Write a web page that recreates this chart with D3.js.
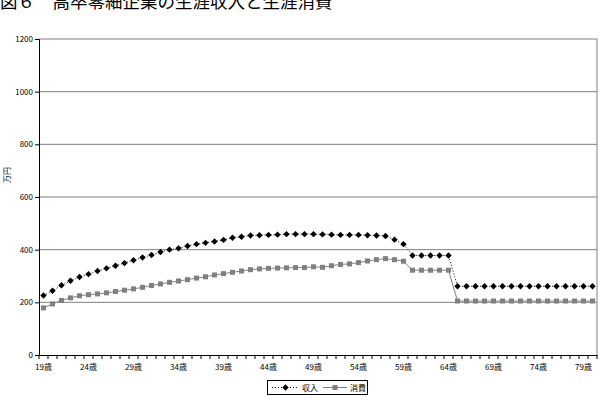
<!DOCTYPE html>
<html>
<head>
<meta charset="utf-8">
<script src="https://cdn.jsdelivr.net/npm/d3@7"></script>
<style>
  body { margin: 0; background: #fff; }
  text { font-family: "Noto Sans CJK JP", sans-serif; }
</style>
</head>
<body>
<svg id="chart" width="600" height="416"></svg>
<script>
// data (万円)
const ages = d3.range(19, 81);
const income = [226, 244, 265, 282, 296, 307, 319, 329, 339, 349,
                360, 370, 380, 391, 400, 405, 414, 421, 426, 431,
                437, 445, 449, 454, 455, 456, 457, 459, 459, 459,
                459, 458, 457, 456, 456, 456, 455, 454, 452, 438,
                421, 378, 378, 378, 378, 378, 261, 261, 261, 261,
                261, 261, 261, 261, 261, 261, 261, 261, 261, 261,
                261, 261];
const consumption = [179, 194, 207, 217, 225, 229, 232, 236, 241, 246,
                     251, 257, 264, 270, 276, 281, 286, 292, 297, 304,
                     309, 314, 319, 324, 327, 329, 330, 331, 332, 332,
                     335, 333, 339, 344, 346, 351, 357, 362, 366, 362,
                     356, 322, 322, 322, 322, 322, 205, 205, 205, 205,
                     205, 205, 205, 205, 205, 205, 205, 205, 205, 205,
                     205, 205];
const yTicks = [0, 200, 400, 600, 800, 1000, 1200];
const xLabels = [19, 24, 29, 34, 39, 44, 49, 54, 59, 64, 69, 74, 79];
const seriesNames = ["収入", "消費"];

const svg = d3.select("#chart"),
    plot = {left: 39, right: 597, top: 39, bottom: 355};

const x = d3.scaleBand().domain(ages).range([plot.left, plot.right]).padding(0);
const y = d3.scaleLinear().domain([0, 1200]).range([plot.bottom, plot.top]);

// title (cut at the top like the original)
svg.append("text")
    .attr("x", 0).attr("y", 8)
    .attr("font-size", 17.5)
    .attr("fill", "#000")
    .text("図６　高卒零細企業の生涯収入と生涯消費");

// grid lines
svg.append("g")
  .selectAll("line")
  .data(yTicks.filter(d => d > 0))
  .enter().append("line")
    .attr("x1", plot.left).attr("x2", plot.right)
    .attr("y1", d => y(d)).attr("y2", d => y(d))
    .attr("stroke", "#808080").attr("stroke-width", 1);

// right border
svg.append("line")
    .attr("x1", plot.right).attr("x2", plot.right)
    .attr("y1", plot.top).attr("y2", plot.bottom)
    .attr("stroke", "#808080");

// y axis
const yAxis = svg.append("g")
    .attr("transform", "translate(" + plot.left + ",0)")
    .call(d3.axisLeft(y).tickValues(yTicks).tickFormat(d3.format("d"))
      .tickSize(4).tickPadding(2));
yAxis.select(".domain").attr("stroke", "#000");
yAxis.selectAll("text").attr("font-size", 8).attr("fill", "#000")
    .style("font-family", "'Noto Sans CJK JP', sans-serif");

// x axis: labels at category centres, ticks between categories
const xAxis = svg.append("g")
    .attr("transform", "translate(0," + plot.bottom + ")")
    .call(d3.axisBottom(x).tickValues(xLabels).tickFormat(d => d + "歳")
      .tickSize(0).tickPadding(9));
xAxis.select(".domain").attr("stroke", "#000");
xAxis.selectAll("text").attr("font-size", 8).attr("fill", "#000")
    .style("font-family", "'Noto Sans CJK JP', sans-serif");

xAxis.selectAll(".cat-tick")
  .data(ages.concat(["end"]))
  .enter().append("line")
    .attr("class", "cat-tick")
    .attr("x1", d => d === "end" ? plot.right : x(d))
    .attr("x2", d => d === "end" ? plot.right : x(d))
    .attr("y1", 0).attr("y2", 4)
    .attr("stroke", "#000");

// axis title
svg.append("text")
    .attr("transform", "translate(10,175) rotate(-90)")
    .attr("text-anchor", "middle")
    .attr("font-size", 8)
    .text("万円");

const cx = d => x(d) + x.bandwidth() / 2;

const line = d3.line()
    .x((d, i) => cx(ages[i]))
    .y(d => y(d));

// income: dotted black line with diamonds
svg.append("path")
    .datum(income)
    .attr("d", line)
    .attr("fill", "none")
    .attr("stroke", "#000")
    .attr("stroke-width", 1)
    .attr("stroke-dasharray", "1,2");

const diamond = d3.symbol().type(d3.symbolDiamond2).size(26);
svg.append("g")
  .selectAll("path")
  .data(income)
  .enter().append("path")
    .attr("d", diamond)
    .attr("transform", (d, i) => "translate(" + cx(ages[i]) + "," + y(d) + ")")
    .attr("fill", "#000");

// consumption: solid gray line with squares
svg.append("path")
    .datum(consumption)
    .attr("d", line)
    .attr("fill", "none")
    .attr("stroke", "#808080")
    .attr("stroke-width", 1);

svg.append("g")
  .selectAll("rect")
  .data(consumption)
  .enter().append("rect")
    .attr("x", (d, i) => cx(ages[i]) - 2.5)
    .attr("y", d => y(d) - 2.5)
    .attr("width", 5).attr("height", 5)
    .attr("fill", "#808080");

// legend
const lg = svg.append("g").attr("transform", "translate(267,380)");
lg.append("rect")
    .attr("x", 0.5).attr("y", 0.5)
    .attr("width", 100).attr("height", 14)
    .attr("fill", "#fff").attr("stroke", "#000");

lg.append("line")
    .attr("x1", 5).attr("x2", 32).attr("y1", 7.5).attr("y2", 7.5)
    .attr("stroke", "#000").attr("stroke-dasharray", "1,2");
lg.append("path")
    .attr("d", diamond)
    .attr("transform", "translate(18.5,7.5)");
lg.append("text")
    .attr("x", 35).attr("y", 10.5)
    .attr("font-size", 8)
    .text(seriesNames[0]);

lg.append("line")
    .attr("x1", 56).attr("x2", 80).attr("y1", 7.5).attr("y2", 7.5)
    .attr("stroke", "#808080");
lg.append("rect")
    .attr("x", 65.5).attr("y", 5).attr("width", 5).attr("height", 5)
    .attr("fill", "#808080");
lg.append("text")
    .attr("x", 83).attr("y", 10.5)
    .attr("font-size", 8)
    .text(seriesNames[1]);
</script>
</body>
</html>
